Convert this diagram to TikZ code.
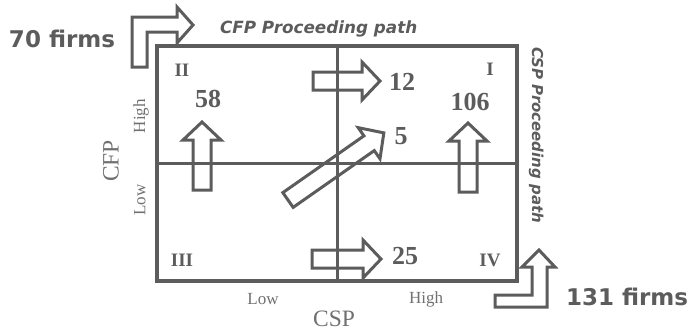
\documentclass[tikz,border=0pt]{standalone}
\usepackage{fontspec}
\setmainfont{Liberation Serif}
\newfontfamily\labelsans{DejaVu Sans}
\usetikzlibrary{positioning}
\definecolor{darkgray}{RGB}{92,92,92}
\definecolor{softgray}{RGB}{112,112,112}
\begin{document}
\begin{tikzpicture}[x=1pt,y=-1pt,
  every node/.style={inner sep=0pt,outer sep=0pt,text=darkgray},
  firms/.style={font=\labelsans\bfseries\fontsize{23}{26}\selectfont},
  pathlabel/.style={font=\labelsans\bfseries\itshape\fontsize{16.8}{20}\selectfont},
  count/.style={font=\bfseries\fontsize{26}{30}\selectfont},
  quadrant/.style={font=\bfseries\fontsize{19}{22}\selectfont},
  axis/.style={font=\fontsize{17}{20}\selectfont,text=softgray},
  axistitle/.style={font=\fontsize{23.5}{26}\selectfont,text=softgray},
  blockarrow/.style={draw=darkgray,line width=3pt}]
\useasboundingbox (0,0) rectangle (689,335);
\node[draw=darkgray,line width=4pt,minimum width=360pt,minimum height=235pt] (frame) at (337,163.5) {};
\draw[darkgray,line width=3pt] (frame.north) -- (frame.south);
\draw[darkgray,line width=3pt] (frame.west) -- (frame.east);
\foreach \x/\y/\a/\l in {202/190/90/68,468/192/90/69,313/81/0/67,312/259/0/69,288/200/35/117}
  \draw[blockarrow,shift={(\x,\y)},rotate=\a] (0,-9) -- ({\l-18},-9) -- ({\l-18},-19) -- (\l,0)
    -- ({\l-18},19) -- ({\l-18},9) -- (0,9) -- cycle;
\draw[blockarrow] (132,67) -- (132,17) -- (177,17) -- (177,7) -- (193,25) -- (177,43) -- (177,32)
  -- (147,32) -- (147,67) -- cycle;
\draw[blockarrow] (495,307) -- (547,307) -- (547,267) -- (555,267) -- (539,250) -- (522,267)
  -- (532,267) -- (532,295) -- (495,295) -- cycle;
\node[firms,anchor=base west] (cfpfirms) at (9,47) {70 firms};
\node[firms,anchor=base west] (cspfirms) at (566,305) {131 firms};
\node[pathlabel,anchor=base west] (cfppath) at (220,33) {CFP Proceeding path};
\node[pathlabel,font=\labelsans\bfseries\itshape\fontsize{15}{18}\selectfont,rotate=-90,anchor=base west] (csppath) at (532,47) {CSP Proceeding path};
\node[quadrant] (q2) at (182,70) {II};
\node[quadrant] (q1) at (490,69) {I};
\node[quadrant] (q3) at (182,260) {III};
\node[quadrant] (q4) at (490,260) {IV};
\node[count] (n58) at (208,99) {58};
\node[count] (n12) at (402,82) {12};
\node[count] (n106) at (470,102) {106};
\node[count] (n5) at (401,136) {5};
\node[count] (n25) at (405,256) {25};
\node[axis,rotate=90] (cfphigh) at (141,116) {High};
\node[axis,rotate=90] (cfplow) at (140,200) {Low};
\node[axistitle,rotate=90] (cfp) at (111,161) {CFP};
\node[axis] (csplow) at (263,299) {Low};
\node[axis] (csphigh) at (426,299) {High};
\node[axistitle] (csp) at (334,319) {CSP};
\end{tikzpicture}
\end{document}
